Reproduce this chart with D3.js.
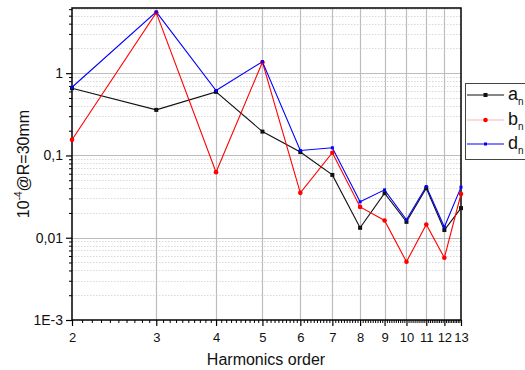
<!DOCTYPE html>
<html>
<head>
<meta charset="utf-8">
<script src="https://cdn.jsdelivr.net/npm/d3@7"></script>
<style>
  html, body { margin: 0; padding: 0; background: #fff; }
  svg { display: block; font-family: "Liberation Sans", Arial, sans-serif; }
</style>
</head>
<body>
<svg id="chart" width="525" height="370"></svg>
<script>
// Harmonic orders and multipole coefficients (units of 1e-4 at R = 30 mm)
const orders = [2, 3, 4, 5, 6, 7, 8, 9, 10, 11, 12, 13];
const aN = [0.657, 0.358, 0.593, 0.195, 0.110, 0.058, 0.0132, 0.0348, 0.0156, 0.040, 0.0124, 0.0229];
const bN = [0.155, 5.45, 0.0627, 1.36, 0.0351, 0.108, 0.0237, 0.0162, 0.0051, 0.0145, 0.0057, 0.034];
const dN = [0.675, 5.56, 0.615, 1.38, 0.115, 0.124, 0.0273, 0.0382, 0.0165, 0.0419, 0.0135, 0.0412];

const yTickValues = [0.001, 0.01, 0.1, 1];
const yTickLabels = ["1E-3", "0,01", "0,1", "1"];
const xTickLabels = ["2", "3", "4", "5", "6", "7", "8", "9", "10", "11", "12", "13"];

const seriesNames = ["a", "b", "d"];
const seriesColors = ["#111111", "#ff0000", "#0000ff"];

const svg = d3.select("#chart");
const plot = { left: 72, right: 461, top: 8, bottom: 320 };

const x = d3.scaleLog().domain([2, 13]).range([plot.left, plot.right]);
const y = d3.scaleLog().domain([0.001, 6.2]).range([plot.bottom, plot.top]);

// minor positions: tenths along x, 2..9 per decade along y
const xMinor = [];
for (let i = 20; i < 130; i++) if (i % 10 !== 0) xMinor.push(i / 10);
const yMinor = [];
for (let e = -3; e <= 0; e++) for (let k = 2; k <= 9; k++) {
  const v = k * Math.pow(10, e);
  if (v <= 6.2) yMinor.push(v);
}

const grid = svg.append("g");
// dotted minor horizontal grid
grid.selectAll("line.ymin").data(yMinor).join("line")
  .attr("x1", plot.left).attr("x2", plot.right)
  .attr("y1", d => Math.round(y(d)) + 0.5).attr("y2", d => Math.round(y(d)) + 0.5)
  .attr("stroke", "#d9d9d9").attr("stroke-width", 1).attr("stroke-dasharray", "1.5,1.5");
// major horizontal grid
grid.selectAll("line.ymaj").data(yTickValues.slice(1)).join("line")
  .attr("x1", plot.left).attr("x2", plot.right)
  .attr("y1", d => Math.round(y(d)) + 0.5).attr("y2", d => Math.round(y(d)) + 0.5)
  .attr("stroke", "#bdbdbd").attr("stroke-width", 1.2);
// vertical grid at each order
grid.selectAll("line.xmaj").data(orders.slice(1, -1)).join("line")
  .attr("x1", d => Math.round(x(d)) + 0.5).attr("x2", d => Math.round(x(d)) + 0.5)
  .attr("y1", plot.top).attr("y2", plot.bottom)
  .attr("stroke", "#bdbdbd").attr("stroke-width", 1.2);

// axes
const xAxis = d3.axisBottom(x).tickValues(orders).tickSize(6)
  .tickFormat((d, i) => xTickLabels[i]);
const gx = svg.append("g").attr("transform", `translate(0,${plot.bottom})`).call(xAxis);
gx.select(".domain").remove();
gx.selectAll(".tick line").attr("stroke", "#000").attr("stroke-width", 1.2);
gx.selectAll(".tick text").attr("font-size", 13).attr("fill", "#111")
  .attr("font-family", "Liberation Sans, Arial, sans-serif").attr("dy", "1em");

const gxm = svg.append("g").attr("transform", `translate(0,${plot.bottom})`)
  .call(d3.axisBottom(x).tickValues(xMinor).tickSize(3).tickFormat(""));
gxm.select(".domain").remove();
gxm.selectAll(".tick line").attr("stroke", "#000");

const yAxis = d3.axisLeft(y).tickValues(yTickValues).tickSize(6)
  .tickFormat((d, i) => yTickLabels[i]);
const gy = svg.append("g").attr("transform", `translate(${plot.left},0)`).call(yAxis);
gy.select(".domain").remove();
gy.selectAll(".tick line").attr("stroke", "#000").attr("stroke-width", 1.2);
gy.selectAll(".tick text").attr("font-size", 14).attr("fill", "#111")
  .attr("font-family", "Liberation Sans, Arial, sans-serif").attr("x", -9);

const gym = svg.append("g").attr("transform", `translate(${plot.left},0)`)
  .call(d3.axisLeft(y).tickValues(yMinor).tickSize(3).tickFormat(""));
gym.select(".domain").remove();
gym.selectAll(".tick line").attr("stroke", "#000");

// frame
svg.append("rect")
  .attr("x", plot.left).attr("y", plot.top)
  .attr("width", plot.right - plot.left).attr("height", plot.bottom - plot.top)
  .attr("fill", "none").attr("stroke", "#000").attr("stroke-width", 1.5);

// series
const series = [aN, bN, dN].map((vals, i) => ({
  name: seriesNames[i], color: seriesColors[i],
  points: orders.map((n, j) => ({ n, v: vals[j] }))
}));

const line = d3.line().x(d => x(d.n)).y(d => y(d.v));
const gs = svg.append("g");
series.forEach(s => {
  gs.append("path").datum(s.points).attr("d", line)
    .attr("fill", "none").attr("stroke", s.color).attr("stroke-width", 1.1);
});
series.forEach((s, i) => {
  const g = gs.append("g");
  if (i === 0) {
    g.selectAll("rect").data(s.points).join("rect")
      .attr("x", d => x(d.n) - 2).attr("y", d => y(d.v) - 2)
      .attr("width", 4).attr("height", 4).attr("fill", s.color);
  } else if (i === 1) {
    g.selectAll("circle").data(s.points).join("circle")
      .attr("cx", d => x(d.n)).attr("cy", d => y(d.v)).attr("r", 2.3).attr("fill", s.color);
  } else {
    g.selectAll("rect").data(s.points).join("rect")
      .attr("x", d => x(d.n) - 1.5).attr("y", d => y(d.v) - 1.5)
      .attr("width", 3).attr("height", 3).attr("fill", s.color);
  }
});

// axis titles
svg.append("text").attr("x", 266).attr("y", 365).attr("text-anchor", "middle")
  .attr("font-size", 16).attr("fill", "#111").text("Harmonics order");

const yt = svg.append("text").attr("transform", "translate(29,164) rotate(-90)")
  .attr("text-anchor", "middle").attr("font-size", 16).attr("fill", "#111");
yt.append("tspan").text("10");
yt.append("tspan").attr("font-size", 10).attr("dy", -7).text("-4");
yt.append("tspan").attr("dy", 7).text("@R=30mm");

// legend
const lg = svg.append("g");
lg.append("rect").attr("x", 465.5).attr("y", 83.5).attr("width", 62).attr("height", 76)
  .attr("fill", "#fff").attr("stroke", "#444").attr("stroke-width", 1);
const legendRowY = [95, 120, 144];
const legendLineColors = ["#111111", "#f6b8b8", "#0000ff"];
series.forEach((s, i) => {
  const yy = legendRowY[i];
  lg.append("line").attr("x1", 467).attr("x2", 504).attr("y1", yy).attr("y2", yy)
    .attr("stroke", legendLineColors[i]).attr("stroke-width", 1.2);
  if (i === 0) lg.append("rect").attr("x", 483.5).attr("y", yy - 2).attr("width", 4).attr("height", 4).attr("fill", s.color);
  else if (i === 1) lg.append("circle").attr("cx", 485.5).attr("cy", yy).attr("r", 2.3).attr("fill", s.color);
  else lg.append("rect").attr("x", 484).attr("y", yy - 1.5).attr("width", 3).attr("height", 3).attr("fill", s.color);
  const t = lg.append("text").attr("x", 508).attr("y", yy + 5).attr("font-size", 18).attr("fill", "#111");
  t.append("tspan").text(s.name);
  t.append("tspan").attr("font-size", 10).attr("dy", 5).text("n");
});
</script>
</body>
</html>
